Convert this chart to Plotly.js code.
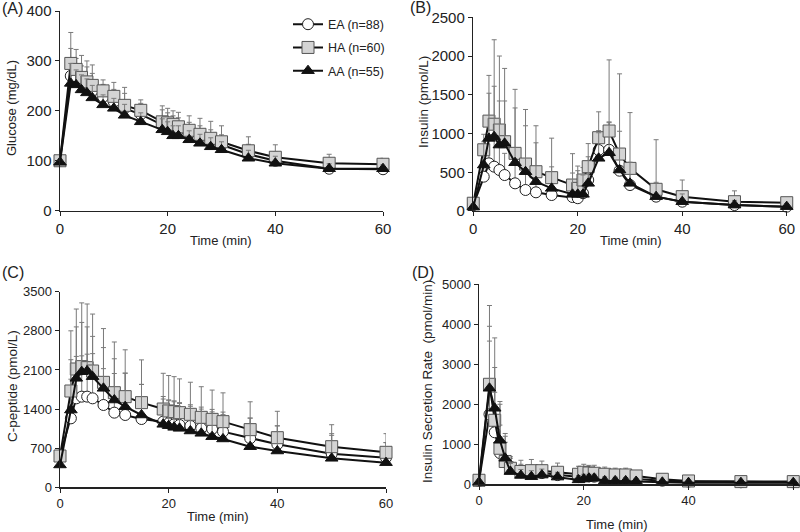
<!DOCTYPE html>
<html>
<head>
<meta charset="utf-8">
<script src="https://cdn.plot.ly/plotly-3.0.1.min.js"></script>
<style>html,body{margin:0;padding:0;background:#fff;}#chart{width:800px;height:532px;}</style>
</head>
<body>
<div id="chart"></div>
<script>
// Sampling times (min)
const time = [0,2,3,4,5,6,8,10,12,15,19,20,21,22,24,26,28,30,35,40,50,60];
const groupNames = ['EA (n=88)','HA (n=60)','AA (n=55)'];
const panelLabels = ['(A)','(B)','(C)','(D)'];
const xTicks = [0,20,40,60];
const xTitle = 'Time (min)';
const yTitles = ['Glucose (mg/dL)','Insulin (pmol/L)','C-peptide (pmol/L)','Insulin Secretion Rate \u00a0(pmol/min)'];

// (A) Glucose (mg/dL)
const glucoseEA = [100,270,265,255,248,240,228,218,205,193,172,168,165,161,155,148,140,132,113,100,84,83];
const glucoseHA = [100,295,283,267,258,251,240,229,211,201,178,176,173,168,161,153,145,138,120,107,95,93];
const glucoseAA = [97,255,252,242,236,226,212,205,191,178,162,158,150,150,142,135,128,122,105,95,84,84];
const glucoseEAerr = [8,55,40,35,40,35,25,25,30,22,30,28,25,25,22,22,22,20,20,18,15,12];
const glucoseHAerr = [8,62,40,44,42,41,22,28,36,21,32,29,27,29,29,32,34,32,28,25,18,12];
const glucoseAAerr = [6,40,30,30,28,25,20,20,22,18,22,20,20,20,18,18,18,16,16,14,10,8];

// (B) Insulin (pmol/L)
const insulinEA = [77,443,615,572,529,464,357,271,241,206,180,165,230,400,787,790,520,335,185,120,77,56];
const insulinHA = [100,790,1160,1120,1045,894,744,606,507,430,335,292,400,572,946,1032,735,550,280,185,120,107];
const insulinAA = [50,593,937,959,851,873,623,507,378,292,215,215,215,357,680,752,529,357,185,120,77,56];
const insulinEAerr = [30,200,300,350,300,280,250,220,200,180,150,140,150,200,250,350,250,200,150,100,60,40];
const insulinHAerr = [60,200,590,1090,955,946,826,704,593,510,405,288,160,298,334,918,1035,720,640,215,140,63];
const insulinAAerr = [30,300,583,651,569,547,707,593,502,278,275,305,250,343,330,398,500,273,185,100,60,40];

// (C) C-peptide (pmol/L)
const cpepEA = [570,1234,1592,1622,1622,1592,1473,1336,1294,1222,1175,1145,1127,1115,1097,1055,1044,996,877,769,600,530];
const cpepHA = [560,1723,2117,2159,2141,2081,1878,1693,1622,1515,1401,1366,1354,1336,1306,1252,1216,1175,1032,888,727,626];
const cpepAA = [400,1383,1950,2069,2081,1980,1771,1562,1443,1294,1127,1103,1073,1055,1008,966,906,865,727,650,519,441];
const cpepEAerr = [60,700,750,730,760,800,650,700,750,620,450,420,420,400,380,380,350,350,360,330,330,270];
const cpepHAerr = [60,1077,1073,1141,1139,1019,962,907,838,765,639,634,626,604,574,548,524,515,498,472,393,334];
const cpepAAerr = [50,900,920,881,789,720,729,738,597,546,453,447,457,445,442,434,444,435,513,450,441,359];

// (D) Insulin secretion rate (pmol/min)
const isrEA = [80,1750,1300,780,550,440,300,280,280,230,180,210,200,190,160,150,150,130,90,70,50,50];
const isrHA = [100,2500,1600,900,570,400,320,340,340,300,250,300,283,275,250,233,233,208,125,83,67,67];
const isrAA = [50,2400,1900,1100,650,320,220,190,230,180,110,130,150,150,85,85,85,70,50,40,40,40];
const isrEAerr = [30,1830,1000,700,500,250,200,200,180,150,130,130,120,120,110,100,100,90,70,50,40,40];
const isrHAerr = [50,1970,2060,1170,700,250,280,280,240,230,200,200,190,200,180,170,170,100,120,70,40,40];
const isrAAerr = [30,1550,1020,900,550,200,150,150,150,120,110,120,100,100,100,90,80,70,50,40,30,30];

const yRanges = [[0,400],[0,2500],[0,3500],[0,5000]];
const yDticks = [100,500,700,1000];

const styles = [
  {symbol:'circle', color:'#ffffff', line:'#222222', size:11},
  {symbol:'square', color:'#d4d4d4', line:'#555555', size:12},
  {symbol:'triangle-up', color:'#111111', line:'#111111', size:11}
];

const panels = [
  [[glucoseEA,glucoseEAerr],[glucoseHA,glucoseHAerr],[glucoseAA,glucoseAAerr]],
  [[insulinEA,insulinEAerr],[insulinHA,insulinHAerr],[insulinAA,insulinAAerr]],
  [[cpepEA,cpepEAerr],[cpepHA,cpepHAerr],[cpepAA,cpepAAerr]],
  [[isrEA,isrEAerr],[isrHA,isrHAerr],[isrAA,isrAAerr]]
];

const traces = [];
panels.forEach((series, p) => {
  const ax = p === 0 ? '' : String(p + 1);
  series.forEach((s, g) => {
    traces.push({
      type:'scatter', mode:'lines+markers',
      x: time, y: s[0],
      xaxis:'x'+ax, yaxis:'y'+ax,
      name: groupNames[g], legendgroup: 'g'+g,
      showlegend: p === 0,
      cliponaxis:false,
      line:{color:'#111111', width:2},
      marker:{symbol:styles[g].symbol, size:styles[g].size, color:styles[g].color,
              line:{color:styles[g].line, width:1}},
      error_y:{type:'data', symmetric:false, array:s[1], arrayminus:s[1].map(()=>0),
               color:'#7a7a7a', thickness:1, width:2.5}
    });
  });
});

const fam = '"Liberation Sans", Arial, sans-serif';
const F = (size) => ({family:fam, size:size, color:'#222'});
const xDomains = [[0.075,0.47875],[0.5916,0.9834],[0.075,0.4825],[0.59875,0.9916]];
const yDomains = [[0.604,0.9793],[0.6034,0.9675],[0.0840,0.4517],[0.0897,0.4656]];
const tickSizes = [15,15,13,13];

const layout = {
  width:800, height:532,
  margin:{l:0,r:0,t:0,b:0},
  paper_bgcolor:'#fff', plot_bgcolor:'#fff',
  font: F(13),
  showlegend:true,
  legend:{x:0.36, y:0.982, xanchor:'left', yanchor:'top', bgcolor:'rgba(0,0,0,0)',
          font:F(12.5), tracegroupgap:4, itemwidth:30},
  annotations: [],
};

for (let p = 0; p < 4; p++) {
  const ax = p === 0 ? '' : String(p + 1);
  layout['xaxis'+ax] = {
    domain:xDomains[p], anchor:'y'+ax, range:[0,60], tickvals:xTicks,
    showline:true, linecolor:'#222', linewidth:1.5, ticks:'outside', ticklen:4, tickcolor:'#222',
    showgrid:false, zeroline:false, tickfont:F(tickSizes[p]), automargin:false
  };
  layout['yaxis'+ax] = {
    domain:yDomains[p], anchor:'x'+ax, range:yRanges[p], dtick:yDticks[p], tick0:0,
    showline:true, linecolor:'#222', linewidth:1.5, ticks:'outside', ticklen:4, tickcolor:'#222',
    showgrid:false, zeroline:false, tickfont:F(tickSizes[p]), automargin:false
  };
}

// axis titles placed as annotations (pixel positions converted to paper fractions)
const px = (x) => x/800, py = (y) => 1 - y/532;
const xTitlePos = [[221,240],[631,240],[218,516],[617,524]];
const yTitlePos = [[12,108],[424,102],[12,386],[427,381]];
const yTitleSizes = [13,13.5,13.5,13.5];
for (let p = 0; p < 4; p++) {
  layout.annotations.push({text:xTitle, xref:'paper', yref:'paper', x:px(xTitlePos[p][0]), y:py(xTitlePos[p][1]),
    xanchor:'center', yanchor:'middle', showarrow:false, font:F(13)});
  layout.annotations.push({text:yTitles[p], xref:'paper', yref:'paper', x:px(yTitlePos[p][0]), y:py(yTitlePos[p][1]),
    xanchor:'center', yanchor:'middle', textangle:-90, showarrow:false, font:F(yTitleSizes[p])});
}

const labelPos = [[0,8],[408,7],[0,272],[410,272]];
panelLabels.forEach((t,i)=>{
  layout.annotations.push({text:t, xref:'paper', yref:'paper', x:px(labelPos[i][0]), y:py(labelPos[i][1]),
    xanchor:'left', yanchor:'middle', showarrow:false, font:F(16)});
});

Plotly.newPlot('chart', traces, layout, {displayModeBar:false, staticPlot:true});
</script>
</body>
</html>
